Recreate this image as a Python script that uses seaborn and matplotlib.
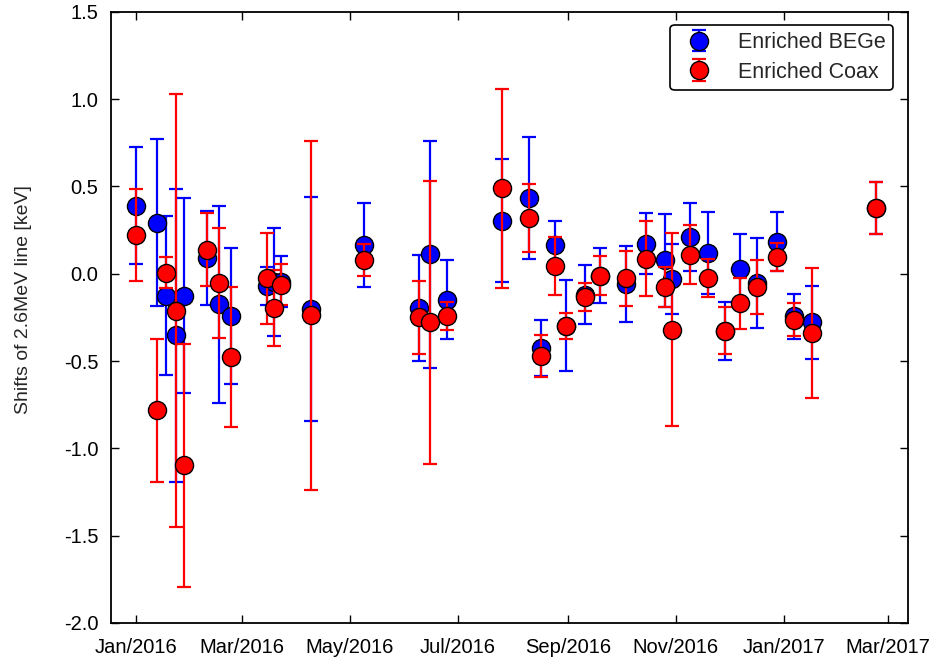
"""
Energy shifts of the 2.6 MeV line, enriched BEGe and Coax detectors
"""
import pandas as pd
import matplotlib
matplotlib.use('Agg')
import matplotlib.pyplot as plt
import matplotlib.dates as mdates
from matplotlib.container import ErrorbarContainer
from matplotlib.legend_handler import HandlerErrorbar
import seaborn as sns

# calibration dates (shared by both detector groups)
dates = [
    '2016-01-01', '2016-01-13', '2016-01-18', '2016-01-24', '2016-01-28',
    '2016-02-10', '2016-02-17', '2016-02-24', '2016-03-15', '2016-03-19',
    '2016-03-23', '2016-04-09', '2016-05-09', '2016-06-09', '2016-06-15',
    '2016-06-25', '2016-07-26', '2016-08-10', '2016-08-17', '2016-08-25',
    '2016-08-31', '2016-09-11', '2016-09-19', '2016-10-04', '2016-10-15',
    '2016-10-26', '2016-10-30', '2016-11-09', '2016-11-19', '2016-11-29',
    '2016-12-07', '2016-12-17', '2016-12-28', '2017-01-07', '2017-01-17',
    '2017-02-22',
]

bege_shift = [
    0.39, 0.293, -0.126, -0.353, -0.126,
    0.09, -0.174, -0.244, -0.07, -0.045,
    -0.045, -0.202, 0.166, -0.196, 0.112,
    -0.149, 0.305, 0.433, -0.425, 0.166,
    -0.297, -0.12, -0.01, -0.059, 0.172,
    0.078, -0.03, 0.21, 0.118, -0.328,
    0.029, -0.053, 0.183, -0.244, -0.278,
    0.375,
]
bege_err = [
    0.335, 0.48, 0.455, 0.84, 0.56,
    0.27, 0.565, 0.39, 0.11, 0.31,
    0.146, 0.64, 0.24, 0.305, 0.65,
    0.225, 0.353, 0.35, 0.16, 0.135,
    0.26, 0.168, 0.16, 0.217, 0.175,
    0.266, 0.2, 0.195, 0.233, 0.164,
    0.2, 0.258, 0.17, 0.127, 0.208,
    0.15,
]

coax_shift = [
    0.223, -0.782, 0.006, -0.212, -1.098,
    0.137, -0.054, -0.477, -0.025, -0.196,
    -0.063, -0.238, 0.08, -0.25, -0.278,
    -0.24, 0.49, 0.322, -0.473, 0.046,
    -0.301, -0.134, -0.01, -0.025, 0.086,
    -0.076, -0.32, 0.109, -0.025, -0.326,
    -0.17, -0.076, 0.097, -0.263, -0.339,
    0.378,
]
coax_err = [
    0.265, 0.41, 0.09, 1.24, 0.695,
    0.21, 0.315, 0.40, 0.26, 0.22,
    0.117, 1.0, 0.09, 0.21, 0.81,
    0.08, 0.57, 0.195, 0.12, 0.165,
    0.075, 0.08, 0.11, 0.157, 0.215,
    0.115, 0.555, 0.17, 0.108, 0.134,
    0.145, 0.154, 0.08, 0.093, 0.372,
    0.15,
]

x_ticks = ['2016-01-01', '2016-03-01', '2016-05-01', '2016-07-01',
           '2016-09-01', '2016-11-01', '2017-01-01', '2017-03-01']
y_ticks = [-2.0, -1.5, -1.0, -0.5, 0.0, 0.5, 1.0, 1.5]


if __name__ == '__main__':

    sns.set_theme(style='ticks')
    plt.rcParams['font.family'] = ['Liberation Sans', 'DejaVu Sans']

    data = pd.concat([
        pd.DataFrame({'date': pd.to_datetime(dates), 'shift': bege_shift,
                      'err': bege_err, 'detector': 'Enriched BEGe'}),
        pd.DataFrame({'date': pd.to_datetime(dates), 'shift': coax_shift,
                      'err': coax_err, 'detector': 'Enriched Coax'}),
    ], ignore_index=True)

    colors = {'Enriched BEGe': '#0000ff', 'Enriched Coax': '#ff0000'}

    fig = plt.figure(figsize=(9.32, 6.64), dpi=100)
    ax = fig.add_axes([0.119, 0.062, 0.855, 0.92])

    handles = []
    for i, (name, subset) in enumerate(data.groupby('detector', sort=False)):
        color = colors[name]
        bars = ax.errorbar(subset['date'], subset['shift'], yerr=subset['err'],
                           fmt='none', ecolor=color, elinewidth=1.6,
                           capsize=4.8, capthick=1.6, zorder=2 + 2 * i)
        sns.scatterplot(data=subset, x='date', y='shift', ax=ax, color=color,
                        s=170, edgecolor='black', linewidth=1.0,
                        zorder=3 + 2 * i, legend=False)
        handles.append((bars, ax.collections[-1]))

    # legend entries: error bar with the marker on top
    leg = ax.legend(handles, list(colors), loc='upper right',
                    fontsize=15.5, frameon=True, fancybox=True,
                    borderpad=0.35, handletextpad=0.8, labelspacing=0.4,
                    handlelength=2.0, borderaxespad=0.3,
                    scatteryoffsets=[0.5],
                    bbox_to_anchor=(0.99, 0.99),
                    handler_map={ErrorbarContainer: HandlerErrorbar(yerr_size=0.5)})
    leg.get_frame().set_edgecolor('black')
    leg.get_frame().set_linewidth(1.2)
    leg.get_frame().set_alpha(1)

    ax.set_xlim(pd.Timestamp('2015-12-18'), pd.Timestamp('2017-03-12'))
    ax.set_ylim(-2.0, 1.5)
    ax.set_xticks(pd.to_datetime(x_ticks))
    ax.xaxis.set_major_formatter(mdates.DateFormatter('%b/%Y'))
    ax.set_yticks(y_ticks)
    ax.set_yticklabels(['{:.1f}'.format(v) for v in y_ticks])

    ax.set_xlabel('')
    ax.set_ylabel('Shifts of 2.6MeV line [keV]', fontsize=14)
    ax.yaxis.set_label_coords(-0.099, 0.529)
    ax.tick_params(direction='in', top=True, right=True, length=6,
                   width=1.0, labelsize=14.5, colors='black')
    ax.tick_params(axis='x', pad=11)
    ax.tick_params(axis='y', pad=9)
    for spine in ax.spines.values():
        spine.set_color('black')
        spine.set_linewidth(1.3)

    fig.savefig('out.png', dpi=100)
